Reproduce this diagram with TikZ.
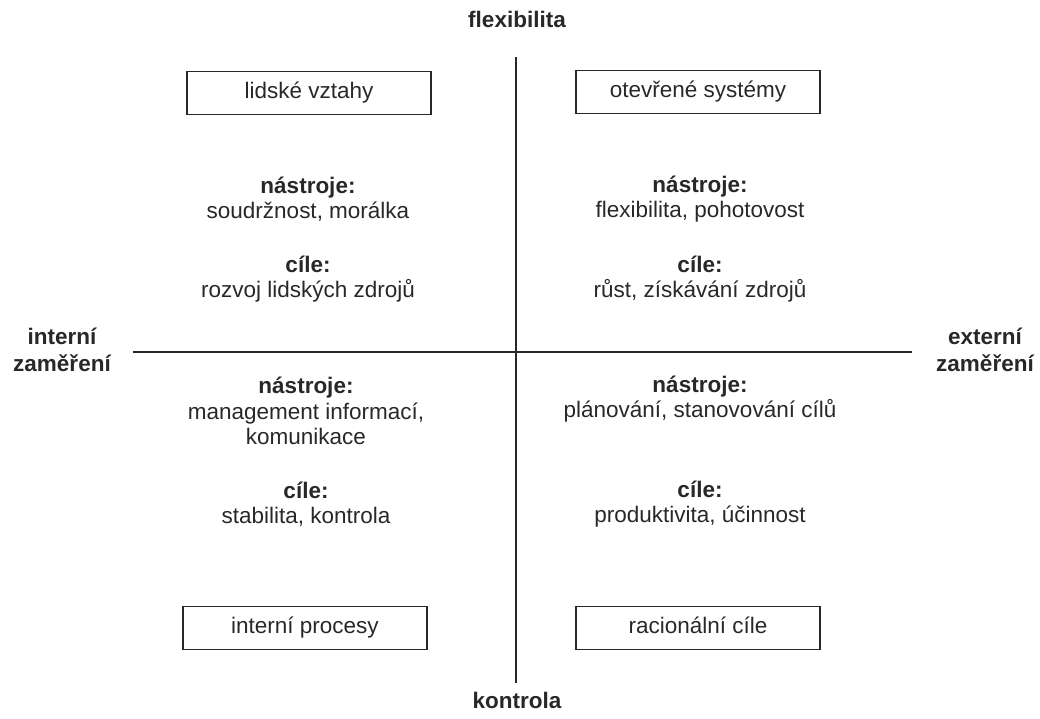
\documentclass[tikz,border=0pt]{standalone}
\usepackage{fontspec}
\setmainfont{Liberation Sans}
\usetikzlibrary{positioning}
\definecolor{ink}{RGB}{40,40,40}

\begin{document}
\begin{tikzpicture}[
    x=0.025cm, y=-0.025cm,
    every node/.style={font=\fontsize{16}{18}\selectfont, align=center, text=ink},
    axislabel/.style={font=\fontsize{16}{19.5}\selectfont\bfseries},
    quadbox/.style={rectangle, draw=ink, line width=1.1pt, minimum width=6.1cm,
                    minimum height=1.08cm, inner sep=0pt, text height=11.5pt, text depth=3pt},
    axisline/.style={draw=ink, line width=0.9pt}
  ]
    \useasboundingbox (0,0) rectangle (1040,718);

    % axes
    \coordinate (top)    at (516,57);
    \coordinate (bottom) at (516,683);
    \coordinate (left)   at (133,352);
    \coordinate (right)  at (912,352);
    \draw[axisline] (top)  -- (bottom);
    \draw[axisline] (left) -- (right);

    \node[axislabel] (flex)  at (517,19)  {flexibilita};
    \node[axislabel] (kontr) at (517,700) {kontrola};
    \node[axislabel] (intz)  at (62,350)  {interní\\zaměření};
    \node[axislabel] (extz)  at (985,350) {externí\\zaměření};

    % quadrant boxes
    \node[quadbox] (lidske)  at (309,93)  {lidské vztahy};
    \node[quadbox] (otevr)   at (698,92)  {otevřené systémy};
    \node[quadbox] (intproc) at (305,628) {interní procesy};
    \node[quadbox] (racio)   at (698,628) {racionální cíle};

    % tools and goals
    \node (lttools) at (308,199) {\textbf{nástroje:}\\soudržnost, morálka};
    \node (ltgoals) at (308,279) {\textbf{cíle:}\\rozvoj lidských zdrojů};
    \node (rttools) at (700,199) {\textbf{nástroje:}\\flexibilita, pohotovost};
    \node (rtgoals) at (700,279) {\textbf{cíle:}\\růst, získávání zdrojů};
    \node (lbtools) at (306,411) {\textbf{nástroje:}\\management informací,\\komunikace};
    \node (lbgoals) at (306,504) {\textbf{cíle:}\\stabilita, kontrola};
    \node (rbtools) at (700,399) {\textbf{nástroje:}\\plánování, stanovování cílů};
    \node (rbgoals) at (700,504) {\textbf{cíle:}\\produktivita, účinnost};
  \end{tikzpicture}
\end{document}
